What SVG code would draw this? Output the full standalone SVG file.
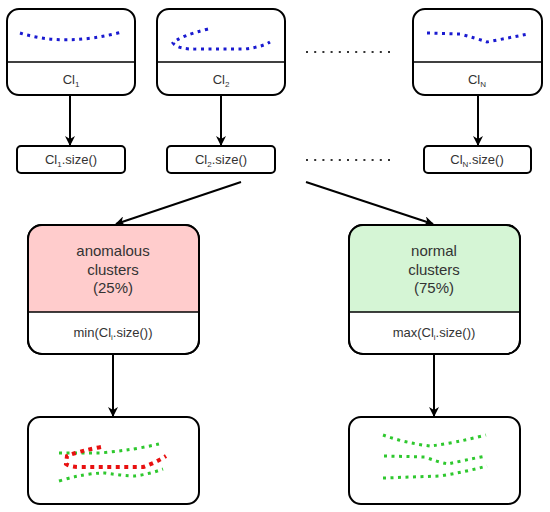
<svg xmlns="http://www.w3.org/2000/svg" width="550" height="512" viewBox="0 0 550 512">
<defs>
<marker id="ah" markerWidth="10" markerHeight="10" refX="9" refY="5" orient="auto" markerUnits="userSpaceOnUse">
<path d="M0,0 L10,5 L0,10 L3,5 z" fill="#000"/>
</marker>
<style>
.box{fill:#fff;stroke:#000;stroke-width:2}
.div{stroke:#000;stroke-width:1.5}
.t{font-family:"Liberation Sans",Arial,sans-serif;font-size:13px;fill:#333;text-anchor:middle}
.tb{font-family:"Liberation Sans",Arial,sans-serif;font-size:15px;fill:#333;text-anchor:middle}
.sub{font-size:8px}
.edge{stroke:#000;stroke-width:2;fill:none;marker-end:url(#ah)}
.blue{fill:none;stroke:#1a1ad0;stroke-width:3;stroke-dasharray:3 4.5}
.green{fill:none;stroke:#2ec82e;stroke-width:3;stroke-dasharray:3 4.5}
.red{fill:none;stroke:#e81010;stroke-width:4;stroke-dasharray:4 4.5}
.dots{fill:none;stroke:#333;stroke-width:2;stroke-dasharray:2 6.2}
</style>
</defs>
<rect width="550" height="512" fill="#fff"/>

<g id="cl1">
<rect class="box" x="7" y="9" width="128" height="86" rx="12"/>
<line class="div" x1="7" y1="62" x2="135" y2="62"/>
<path class="blue" d="M20,33 Q65,47 122,32"/>
<text class="t" x="71" y="84">Cl<tspan class="sub" dy="3">1</tspan></text>
</g>

<g id="cl2">
<rect class="box" x="157" y="9" width="128" height="86" rx="12"/>
<line class="div" x1="157" y1="62" x2="285" y2="62"/>
<path class="blue" d="M208,29 Q180,36 173,43 Q178,50 200,49 L245,49 Q262,47 270,42"/>
<text class="t" x="221" y="84">Cl<tspan class="sub" dy="3">2</tspan></text>
</g>

<g id="clN">
<rect class="box" x="413" y="9" width="129" height="86" rx="12"/>
<line class="div" x1="413" y1="62" x2="542" y2="62"/>
<path class="blue" d="M427,33 L460,34 Q475,38 487,42 Q508,38 528,34"/>
<text class="t" x="477" y="84">Cl<tspan class="sub" dy="3">N</tspan></text>
</g>

<g id="size1">
<rect class="box" x="17" y="146" width="108" height="27" rx="4"/>
<text class="t" x="71" y="164">Cl<tspan class="sub" dy="3">1</tspan><tspan dy="-3">.size()</tspan></text>
</g>
<g id="size2">
<rect class="box" x="167" y="146" width="108" height="27" rx="4"/>
<text class="t" x="221" y="164">Cl<tspan class="sub" dy="3">2</tspan><tspan dy="-3">.size()</tspan></text>
</g>
<g id="sizeN">
<rect class="box" x="424" y="146" width="107" height="27" rx="4"/>
<text class="t" x="477" y="164">Cl<tspan class="sub" dy="3">N</tspan><tspan dy="-3">.size()</tspan></text>
</g>

<g id="ellipsis">
<line class="dots" x1="306" y1="52" x2="390" y2="52"/>
<line class="dots" x1="306" y1="160" x2="390" y2="160"/>
</g>

<g id="anomalous">
<rect class="box" x="28" y="225" width="171" height="129" rx="14"/>
<path d="M42,226 L185,226 Q198,226 198,239 L198,312 L29,312 L29,239 Q29,226 42,226 Z" fill="#ffcccc"/>
<rect x="28" y="225" width="171" height="129" rx="14" fill="none" stroke="#000" stroke-width="2"/>
<line class="div" x1="28" y1="312" x2="199" y2="312"/>
<text class="tb" x="113" y="256">anomalous</text>
<text class="tb" x="113" y="275">clusters</text>
<text class="tb" x="113" y="293">(25%)</text>
<text class="t" x="113" y="337">min(Cl<tspan class="sub" dy="3">i</tspan><tspan dy="-3">.size())</tspan></text>
</g>

<g id="normal">
<rect class="box" x="349" y="225" width="171" height="129" rx="14"/>
<path d="M363,226 L506,226 Q519,226 519,239 L519,312 L350,312 L350,239 Q350,226 363,226 Z" fill="#d5f5d5"/>
<rect x="349" y="225" width="171" height="129" rx="14" fill="none" stroke="#000" stroke-width="2"/>
<line class="div" x1="349" y1="312" x2="520" y2="312"/>
<text class="tb" x="434" y="256">normal</text>
<text class="tb" x="434" y="275">clusters</text>
<text class="tb" x="434" y="293">(75%)</text>
<text class="t" x="434" y="337">max(Cl<tspan class="sub" dy="3">i</tspan><tspan dy="-3">.size())</tspan></text>
</g>

<g id="anomResult">
<rect class="box" x="28" y="417" width="171" height="87" rx="12"/>
<path class="green" d="M59,453 L100,453 Q135,450 163,443"/>
<path class="green" d="M59,481 Q85,473 105,473 Q125,476 135,476 Q150,474 163,469"/>
<path class="red" d="M101,447 Q80,451 67,456 L66,464 Q70,467 80,467 L143,467 Q155,463 166,456"/>
</g>

<g id="normResult">
<rect class="box" x="349" y="417" width="171" height="87" rx="12"/>
<path class="green" d="M383,435 Q405,443 430,446 Q455,443 486,435"/>
<path class="green" d="M384,456 L425,457 Q438,462 448,464 Q465,460 486,456"/>
<path class="green" d="M383,478 L440,476 Q465,472 487,466"/>
</g>

<g id="connectors">
<line class="edge" x1="70" y1="96" x2="70" y2="145"/>
<line class="edge" x1="221" y1="96" x2="221" y2="145"/>
<line class="edge" x1="478" y1="96" x2="478" y2="145"/>
<line class="edge" x1="241" y1="182" x2="116" y2="224"/>
<line class="edge" x1="306" y1="182" x2="433" y2="224"/>
<line class="edge" x1="113" y1="355" x2="113" y2="416"/>
<line class="edge" x1="434" y1="355" x2="434" y2="416"/>
</g>
</svg>
